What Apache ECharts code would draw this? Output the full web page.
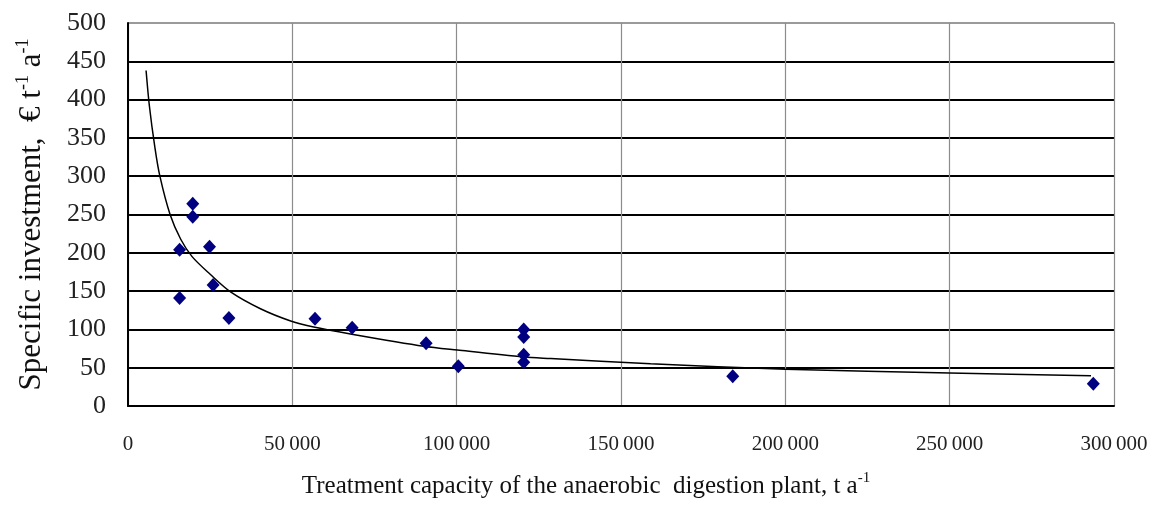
<!DOCTYPE html>
<html>
<head>
<meta charset="utf-8">
<script src="https://cdn.jsdelivr.net/npm/echarts@6/dist/echarts.min.js"></script>
<style>
html,body{margin:0;padding:0;background:#fff;}
#chart{width:1158px;height:517px;}
</style>
</head>
<body>
<div id="chart"></div>
<script>
// Data
const capacity = [19700, 19700, 15700, 24800, 25900, 15700, 30700, 56900, 68200, 90700, 100500, 120400, 120400, 120400, 120400, 184000, 293700];
const investment = [264, 247, 204, 208, 158, 141, 115, 114, 102, 82, 52, 100, 90, 67, 57, 39, 29];
// Trend line points
const trendX = [5500, 6500, 8200, 9700, 12800, 16000, 19500, 25000, 31200, 40300, 49500, 56500, 67700, 90000, 100200, 120400, 128600, 159000, 200000, 250000, 293000];
const trendY = [438, 392, 337, 300, 250, 218, 195, 172, 149, 127, 111, 103, 94, 78, 73, 64, 62, 55, 48, 43, 39.5];
const xTicks = [0, 50000, 100000, 150000, 200000, 250000, 300000];
const yTicks = [0, 50, 100, 150, 200, 250, 300, 350, 400, 450, 500];

const scatterData = capacity.map((c, i) => [c, investment[i]]);
const trendData = trendX.map((x, i) => [x, trendY[i]]);

function fmtX(v) {
  if (v === 0) return '0';
  const s = String(v);
  return s.slice(0, s.length - 3) + '\u2009' + s.slice(s.length - 3);
}

const serif = '"Liberation Serif", "DejaVu Serif", serif';
const ySplitColors = yTicks.map((t, i) => i === yTicks.length - 1 ? '#9a9a9a' : '#000000');

const chart = echarts.init(document.getElementById('chart'));
chart.setOption({
  animation: false,
  backgroundColor: '#ffffff',
  grid: { left: 128, right: 44, top: 23, bottom: 111, containLabel: false },
  xAxis: {
    type: 'value',
    min: xTicks[0],
    max: xTicks[xTicks.length - 1],
    interval: xTicks[1] - xTicks[0],
    name: '{n|Treatment capacity of the anaerobic  digestion plant, t a}{s|-1}',
    nameLocation: 'middle',
    nameGap: 65,
    nameTextStyle: {
      padding: [0, 70, 0, 0],
      rich: {
        n: { fontFamily: serif, fontSize: 25, color: '#111', lineHeight: 30 },
        s: { fontFamily: serif, fontSize: 15, color: '#111', verticalAlign: 'top', lineHeight: 30 }
      }
    },
    axisLine: { show: true, onZero: false, lineStyle: { color: '#000', width: 2 } },
    axisTick: { show: false },
    axisLabel: { fontFamily: serif, fontSize: 21, color: '#222', margin: 28, formatter: fmtX },
    splitLine: { show: true, lineStyle: { color: '#8c8c8c', width: 1.2 } }
  },
  yAxis: {
    type: 'value',
    min: yTicks[0],
    max: yTicks[yTicks.length - 1],
    interval: yTicks[1] - yTicks[0],
    name: '{n|Specific investment,  \u20ac t}{s|-1}{n| a}{s|-1}',
    nameLocation: 'middle',
    nameRotate: 90,
    nameGap: 78,
    nameTextStyle: {
      rich: {
        n: { fontFamily: serif, fontSize: 31, color: '#111', lineHeight: 36 },
        s: { fontFamily: serif, fontSize: 18, color: '#111', verticalAlign: 'top', lineHeight: 36 }
      }
    },
    axisLine: { show: true, lineStyle: { color: '#000', width: 2 } },
    axisTick: { show: false },
    axisLabel: { fontFamily: serif, fontSize: 26, color: '#222', margin: 22 },
    splitLine: { show: true, lineStyle: { color: ySplitColors, width: 2 } }
  },
  series: [
    {
      type: 'line',
      data: trendData,
      smooth: 0.3,
      showSymbol: false,
      symbol: 'none',
      lineStyle: { color: '#000', width: 1.5 },
      z: 3
    },
    {
      type: 'scatter',
      data: scatterData,
      symbol: 'diamond',
      symbolSize: [13, 14],
      itemStyle: { color: '#000080', opacity: 1 },
      z: 4
    }
  ]
});
</script>
</body>
</html>
